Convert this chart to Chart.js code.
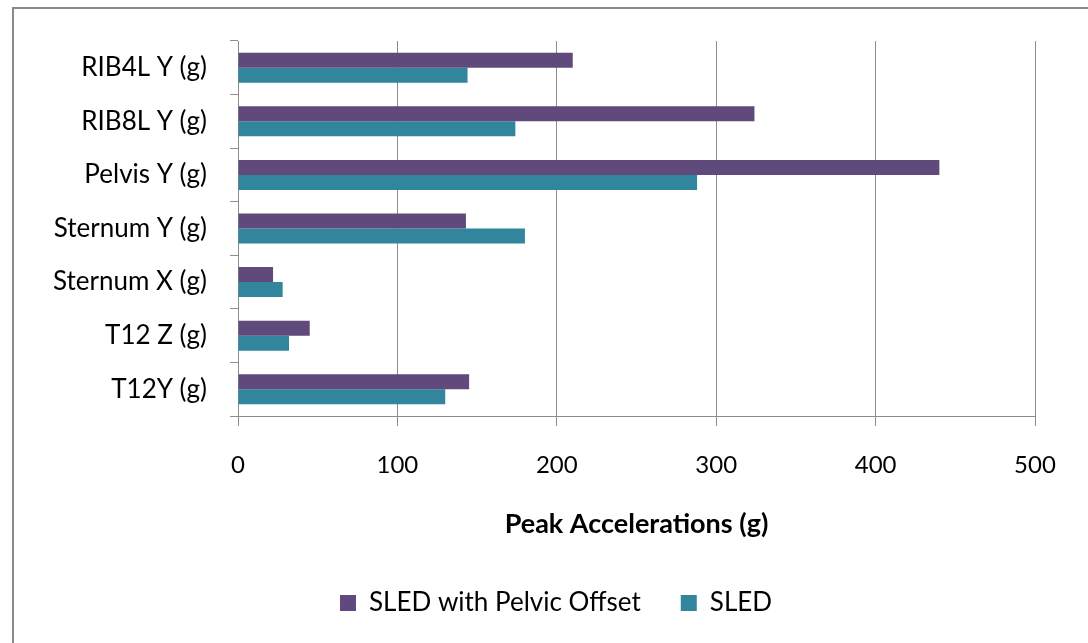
<!DOCTYPE html>
<html>
<head>
<meta charset="utf-8">
<script src="https://cdn.jsdelivr.net/npm/chart.js@4/dist/chart.umd.min.js"></script>
<style>
  html, body { margin: 0; padding: 0; background: #ffffff; overflow: hidden; }
  #wrap { position: relative; width: 1088px; height: 643px; }
  #frame { position: absolute; left: 12px; top: 7px; width: 1100px; height: 700px;
           border: 2px solid #8a8a8a; box-sizing: border-box; }
  canvas { position: absolute; left: 0; top: 0; }
</style>
</head>
<body>
<div id="wrap">
  <div id="frame"></div>
  <canvas id="chart" width="1088" height="643"></canvas>
</div>
<script>
// Peak accelerations per sensor channel
const categories = ['RIB4L Y (g)', 'RIB8L Y (g)', 'Pelvis Y (g)', 'Sternum Y (g)', 'Sternum X (g)', 'T12 Z (g)', 'T12Y (g)'];
const sledPelvicOffset = [210, 324, 440, 143, 22, 45, 145];
const sled = [144, 174, 288, 180, 28, 32, 130];
const seriesNames = ['SLED with Pelvic Offset', 'SLED'];
const xTicks = [0, 100, 200, 300, 400, 500];
const axisTitle = 'Peak Accelerations (g)';

const FONT = 'Lato, "Open Sans", sans-serif';
const GRID = '#8c8c8c';

// Moves the legend row so its items are centred on a given x
const legendShift = {
  id: 'legendShift',
  afterLayout(chart, args, opts) {
    const lg = chart.legend;
    if (!lg) return;
    const dx = opts.center - (lg.left + lg.right) / 2;
    lg.left += dx;
    lg.right += dx;
  }
};

new Chart(document.getElementById('chart'), {
  type: 'bar',
  plugins: [legendShift],
  data: {
    labels: categories,
    datasets: [
      { label: seriesNames[0], data: sledPelvicOffset, backgroundColor: '#604A7B', borderWidth: 0 },
      { label: seriesNames[1], data: sled, backgroundColor: '#31859C', borderWidth: 0 }
    ]
  },
  options: {
    indexAxis: 'y',
    responsive: false,
    animation: false,
    devicePixelRatio: 1,
    categoryPercentage: 0.56,
    barPercentage: 1.0,
    layout: { padding: { left: 0, top: 41, right: 53, bottom: 17 } },
    plugins: {
      tooltip: { enabled: false },
      legendShift: { center: 556 },
      legend: {
        position: 'bottom',
        labels: {
          boxWidth: 16, boxHeight: 16, padding: 40,
          color: '#000', font: { family: FONT, size: 26 }
        }
      }
    },
    scales: {
      x: {
        min: xTicks[0], max: xTicks[xTicks.length - 1],
        afterBuildTicks: s => { s.ticks = xTicks.map(v => ({ value: v })); },
        afterFit: s => { s.height = 134; },
        grid: { color: GRID, lineWidth: 1, drawTicks: true, tickLength: 10, tickColor: GRID },
        border: { display: true, color: GRID, width: 1 },
        ticks: { color: '#000', padding: 25, font: { family: FONT, size: 24 } },
        title: {
          display: true, text: axisTitle, color: '#000',
          font: { family: FONT, size: 27, weight: 'bold' },
          padding: { top: 0, bottom: 10 }
        }
      },
      y: {
        afterFit: s => { s.width = 238; },
        grid: { drawOnChartArea: false, drawTicks: true, tickLength: 8, color: GRID, tickColor: GRID, offset: true },
        border: { display: true, color: GRID, width: 1 },
        ticks: { color: '#000', padding: 23, font: { family: FONT, size: 26 } }
      }
    }
  }
});
</script>
</body>
</html>
